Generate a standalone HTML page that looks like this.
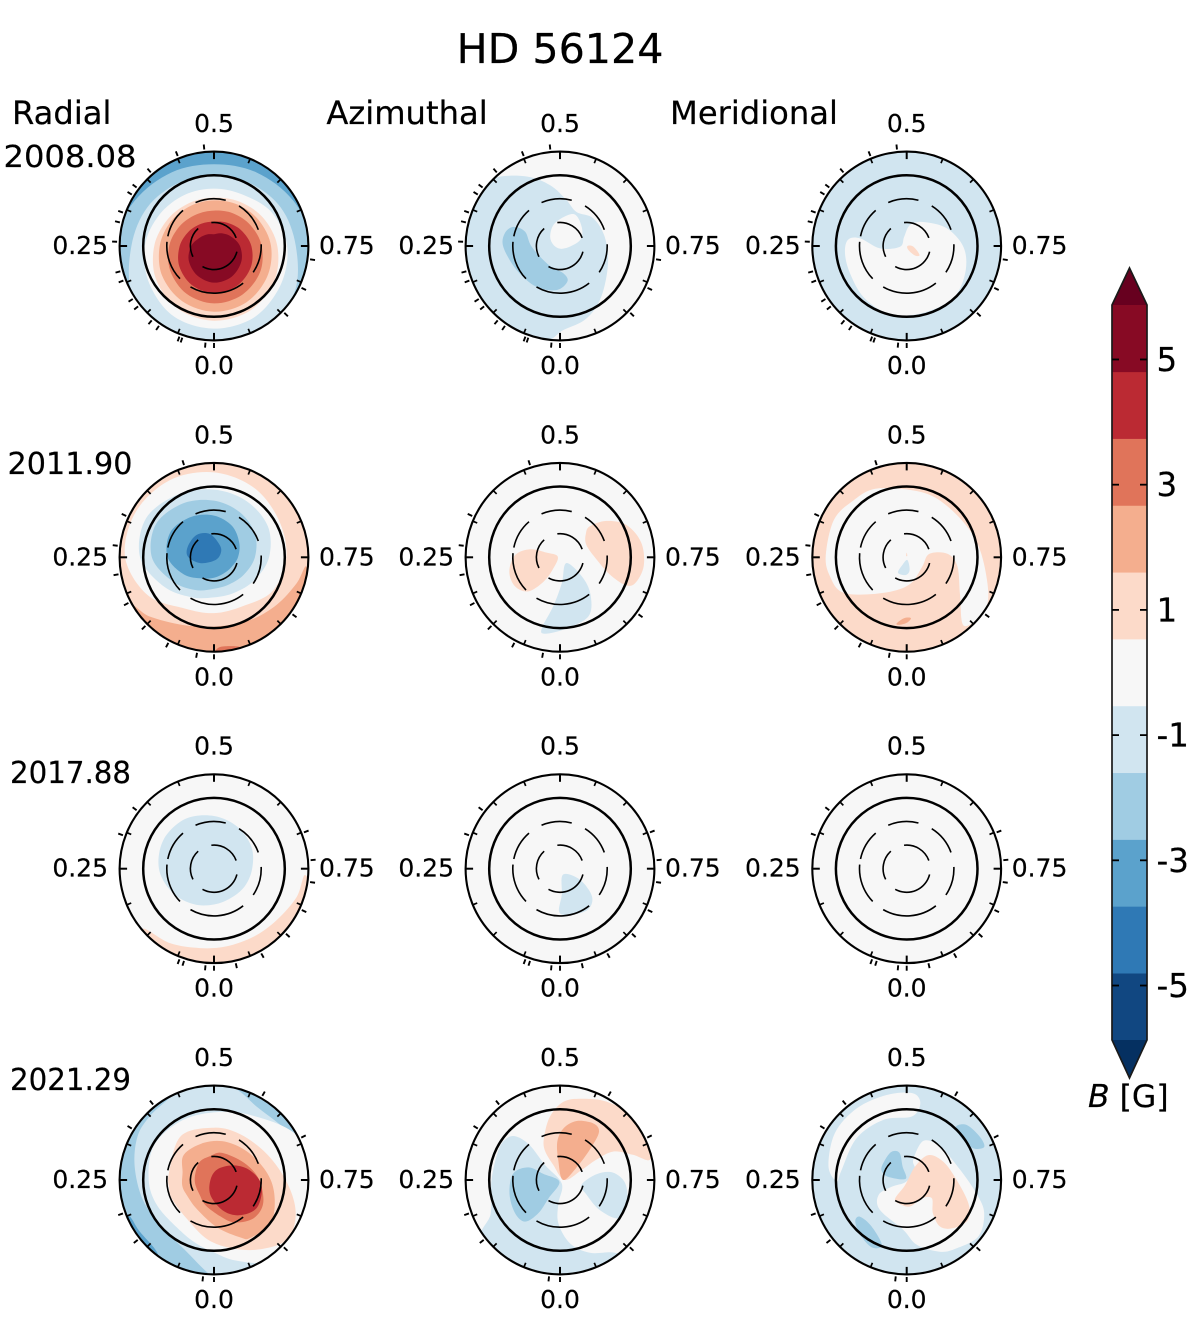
<!DOCTYPE html>
<html lang="en">
<head>
<meta charset="utf-8">
<title>HD 56124</title>
<style>
html,body{margin:0;padding:0;background:#fff;}
svg{display:block;}
text{font-family:"DejaVu Sans","Liberation Sans",sans-serif;fill:#000;stroke:#000;stroke-width:.2;}
</style>
</head>
<body>
<svg id="chart" xmlns="http://www.w3.org/2000/svg" width="1200" height="1336" viewBox="0 0 1200 1336">
  <rect x="0" y="0" width="1200" height="1336" fill="#ffffff"/>
  <text x="560" y="63" font-size="41.2" text-anchor="middle">HD 56124</text>
  <text x="12" y="124" font-size="32.2">Radial</text>
  <text x="407" y="124" font-size="32.2" text-anchor="middle">Azimuthal</text>
  <text x="754" y="124" font-size="32.2" text-anchor="middle">Meridional</text>
  <g id="panels"></g>
  <g id="colorbar"></g>
  <text x="1088" y="1107" font-size="31.5"><tspan font-style="italic">B</tspan> [G]</text>
</svg>
<script>
// ---------- figure categories ----------
const components = ['radial', 'azimuthal', 'meridional'];
const epochs = ['2008.08', '2011.90', '2017.88', '2021.29'];
const phaseLabels = ['0.5', '0.25', '0.75', '0.0'];
const phaseLabelValues = [0.5, 0.25, 0.75, 0];
const gridDashedColat = [30, 60];
const gridSolidColat = [90];
const maxColat = 120;
const minorPhaseCount = 16;

// ---------- observed phases (outer ticks), one list per epoch ----------
const obsPhases2008 = [.484,.439,.387,.353,.339,.306,.289,.257,.208,.192,.158,.143,.111,.096,.058,.053,.014,0,.871,.821,.772];
const obsPhases2011 = [.45,.32,.269,.222,.172,.125,.078,.028,0,.85];
const obsPhases2017 = [.353,.306,.689,.736,.772,.82,.867,.919,.964,0,.014,.05,.058];
const obsPhases2021 = [.583,.392,.339,.678,.194,.144,.872,.018,0];

// ---------- dashed-latitude dash spans [phase start, phase end] ----------
const dashSpans60 = [[.436,.54],[.589,.694],[.744,.844],[.894,1.083],[1.128,1.264],[1.283,1.386]];
const dashSpans30 = [[.482,.694],[.789,1.081],[1.175,1.383]];

// ---------- colour scale ----------
const bandColors = ['#114781','#2f79b5','#5ba2cc','#a0cce3','#d1e5f0','#f7f7f7','#fcdac9','#f4ae8e','#e0745a','#bb2a33','#870a24'];
const extendLowColor = '#053061';
const extendHighColor = '#67001f';
const scaleMin = -5.87;
const scaleMax = 5.87;
const colorbarTicks = [5, 3, 1, -1, -3, -5];
const colorbarTickLabels = ['5', '3', '1', '-1', '-3', '-5'];

// ---------- contour data: [band level, outline]
// outline = list of colatitudes at ringPhases, or list of [phase, colatitude]
const ringPhases = [.5,.583,.667,.75,.833,.917,0,.083,.167,.25,.333,.417];
const baseLevels = [[-3,0,-1],[1,0,1],[0,0,0],[-2,0,-1]];

const radial2008 = [
  [-2,[104,108,116,128,130,130,130,130,130,130,116,108]],
  [-1,[89,92,98,104,118,128,128,128,120,105,98,92]],
  [0,[73,75,85,93,98,104,105,103,95,88,80,75]],
  [1,[61.5,65,72,80.5,88.5,94,95,92,85,76,68,63]],
  [2,[58,60.6,65.7,72.5,78,82.6,83.5,81,76,69,63,59]],
  [3,[45,48,53.4,60.6,67.4,71.6,73,70,64,57,50.4,46]],
  [4,[31,34,40,47.5,54,58.5,60,57,51,43.6,37,32.6]],
  [5,[15,18.6,24.6,33,40,45,46.6,43,37,29,21,17]]
];
const azimuthal2008 = [
  [-1,[[.572,48],[.639,55],[.717,58],[.806,65],[.891,83],[.944,98],[.994,107],[.033,122],[.139,130],[.25,130],[.333,130],[.376,121],[.429,98],[.475,78],[.522,59]]],
  [0,[[.369,17],[.467,30],[.563,44],[.633,37],[.703,27],[.819,7],[.228,6]]],
  [-2,[[.312,64],[.312,48],[.246,36],[.087,28],[.98,35],[.967,46],[.011,56],[.083,60],[.169,63],[.247,72],[.286,72]]]
];
const meridional2008 = [
  [0,[[.267,75],[.276,60],[.236,34],[.233,8.5],[.456,12],[.525,27],[.596,37],[.683,55.5],[.752,72],[.811,81],[.871,88],[.92,88],[.985,88],[.046,89],[.112,85],[.178,80],[.231,79]]],
  [1,[[.75,1],[.766,8.5],[.847,20],[.886,16],[.936,5.5]]]
];
const radial2011 = [
  [2,[[.766,118],[.799,110],[.853,100],[.917,92],[.994,88],[.067,94.5],[.131,111],[.162,120],[.1,132],[0,132],[.9,132],[.82,130]]],
  [3,[[.994,116],[.98,114],[.955,119],[.97,125],[0,125]]],
  [0,[108,102,95,92,86,72,71,75,97,113,115,113]],
  [-1,[86,82.6,79,70,59,52,51,58.5,74,94,99.6,92]],
  [-2,[72,66,60,52,44,39.5,40,48,61,79,85,79]],
  [-3,[53,46,37,30.5,25.4,24,26,31,44,59,64,59]],
  [-4,[[.472,30],[.572,17],[.664,10],[.944,4],[.186,19],[.253,33],[.311,36],[.394,36]]]
];
const azimuthal2011 = [
  [1,[[.622,55],[.644,75],[.678,94],[.722,105],[.767,107],[.803,101],[.814,90],[.803,67],[.761,47],[.679,37],[.631,45]]],
  [1,[[.3,3],[.303,18],[.292,39],[.258,57],[.206,67],[.158,68],[.119,59],[.094,37],[.086,16.5]]],
  [-1,[[.867,11],[.867,40],[.894,63.5],[.929,83.5],[.986,91],[.031,99],[.04,93],[.022,63],[.989,33]]]
];
const meridional2011 = [
  [0,[[.25,103],[.325,104],[.381,99],[.436,95],[.533,85],[.608,83],[.703,89.5],[.781,102.5],[.839,119.5],[.889,114],[.85,84],[.778,65.5],[.736,52],[.726,29],[.836,23],[.975,33.5],[.069,48],[.142,75.5],[.174,94.5],[.207,100]]],
  [-1,[[.96,3.5],[.964,16.5],[.008,22.5],[.082,22.5],[.082,11]]],
  [1,[[.5,6],[.56,2],[.44,2]]],
  [2,[[.024,85],[.007,77.5],[.989,77.5],[.999,83],[.018,86.5]]]
];
const radial2017 = [
  [1,[[.761,116],[.803,111],[.86,103],[.917,100],[.975,100],[.028,102.5],[.085,110],[.138,118],[.1,132],[0,132],[.9,132],[.8,130]]],
  [-1,[67,61,55,48.5,45,43,45.5,52,61,70,74,73]]
];
const azimuthal2017 = [
  [-1,[[.925,8.5],[.83,29],[.864,54],[.906,63],[.967,60],[.003,55],[.989,33]]]
];
const meridional2017 = [];
const radial2021 = [
  [-3,[[.186,117],[.155,115],[.106,117],[.1,130],[.15,130],[.2,130]]],
  [-1,[[.5,130],[.542,118],[.583,108],[.625,108],[.667,115],[.708,130],[.75,132],[.875,132],[.986,130],[.011,118],[.064,96],[.136,89.5],[.208,94],[.278,102.5],[.333,112],[.375,115],[.417,118],[.458,130]]],
  [0,[[.5,86],[.583,95],[.672,120],[.75,132],[.833,132],[.903,125],[.958,106],[0,92],[.042,84],[.092,77.5],[.181,79],[.25,83],[.333,88],[.417,86]]],
  [1,[[.275,58],[.397,70],[.5,66.5],[.583,67],[.678,75],[.756,93],[.811,112],[.858,120],[.906,106],[.958,90],[.017,76],[.094,60.5],[.181,58.5],[.222,58]]],
  [2,[[.361,50],[.458,49],[.553,51],[.653,57],[.739,70],[.799,81],[.853,90],[.91,87],[.931,80.5],[.989,60.5],[.083,43],[.164,39.5],[.22,41],[.286,41]]],
  [3,[[.478,31],[.547,36],[.667,44],[.747,57],[.819,69],[.872,70],[.928,60],[.972,47],[.05,34],[.111,27],[.244,24.5],[.386,29]]],
  [4,[[.211,5],[.547,14],[.65,31.5],[.711,48],[.769,61],[.84,65],[.897,56],[.95,42],[.03,21]]]
];
const azimuthal2021 = [
  [1,[[.444,58.5],[.475,81.5],[.507,99.5],[.542,107],[.586,116],[.636,123],[.69,127],[.715,117],[.697,98],[.672,77],[.669,53],[.681,30.5],[.75,6],[.433,21],[.425,43]]],
  [2,[[.75,4],[.486,25.5],[.489,49],[.511,66],[.544,78],[.585,83.5],[.608,79],[.621,58.5],[.642,30]]],
  [-1,[[.375,78],[.386,58.5],[.375,27],[.925,5],[.011,30],[.006,55],[.975,81.5],[.938,100],[.899,114.5],[.892,130],[.96,132],[.05,132],[.144,126],[.178,98],[.25,87],[.322,87],[.356,86]]],
  [-1,[[.786,28],[.725,47],[.728,68],[.758,83],[.803,90],[.842,89],[.853,63.5],[.831,39]]],
  [-2,[[.311,43],[.306,22.5],[.05,2.5],[.089,27.5],[.092,50.5],[.111,69],[.149,71],[.208,66.5],[.272,60]]]
];
const meridional2021 = [
  [0,[[.278,101],[.342,109],[.403,111],[.464,111],[.511,110.5],[.528,99],[.513,81],[.442,82],[.361,83],[.272,84],[.247,89]]],
  [0,[[.55,27],[.564,54],[.625,60],[.719,69],[.781,90.5],[.814,107],[.856,116],[.9,107.5],[.931,100.5],[.975,83.5],[.011,63.5],[.117,51],[.172,40.5],[.183,21],[.06,2.5],[.611,16.5]]],
  [1,[[.089,27.5],[.05,7],[.589,20],[.614,42],[.676,52],[.75,63.5],[.808,84],[.842,93],[.878,85],[.901,73],[.894,54],[.85,39.5],[.892,30],[.981,34],[.056,31.5]]],
  [-2,[[.328,36],[.414,40.5],[.458,36],[.453,18],[.4,2],[.275,21.5],[.294,31]]],
  [-2,[[.619,92],[.632,103.5],[.665,108],[.686,107],[.679,93.6],[.647,87.7]]],
  [-2,[[.142,84],[.144,75.5],[.103,74],[.058,88.5],[.076,96.5],[.111,91.5]]]
];

const contourTable = [
  [radial2008, azimuthal2008, meridional2008],
  [radial2011, azimuthal2011, meridional2011],
  [radial2017, azimuthal2017, meridional2017],
  [radial2021, azimuthal2021, meridional2021]
];
const obsPhaseTable = [obsPhases2008, obsPhases2011, obsPhases2017, obsPhases2021];
const epochLabelWidths = [133, 125, 121, 121];
const epochLabelCenters = [70, 70, 70.5, 70.5];
const epochLabelBaselines = [167, 474, 783, 1090];

// ---------- layout and scales ----------
const SVGNS = 'http://www.w3.org/2000/svg';
const columnCenters = [214, 560, 906.7];
const rowCenters = [246, 557.3, 868.7, 1180];
const outerRadius = 94.4;
const barX0 = 1112, barX1 = 1147, barTop = 305, barBottom = 1040;

function rScale(colat) { return colat / maxColat * outerRadius; }
function thetaScale(phase) { return (phase - 0.5) * 2 * Math.PI; }
function polarX(cx, phase, colat) { return cx + rScale(colat) * Math.sin(thetaScale(phase)); }
function polarY(cy, phase, colat) { return cy - rScale(colat) * Math.cos(thetaScale(phase)); }
function barY(value) { return barTop + (scaleMax - value) / (scaleMax - scaleMin) * (barBottom - barTop); }
function levelColor(level) { return bandColors[level + 5]; }

function make(tag, parent) {
  const el = document.createElementNS(SVGNS, tag);
  parent.appendChild(el);
  return el;
}

function smoothClosedPath(pts) {
  const n = pts.length;
  let d = 'M' + pts[0][0].toFixed(2) + ' ' + pts[0][1].toFixed(2);
  for (let i = 0; i < n; i++) {
    const p0 = pts[(i - 1 + n) % n], p1 = pts[i], p2 = pts[(i + 1) % n], p3 = pts[(i + 2) % n];
    const c1x = p1[0] + (p2[0] - p0[0]) / 6, c1y = p1[1] + (p2[1] - p0[1]) / 6;
    const c2x = p2[0] - (p3[0] - p1[0]) / 6, c2y = p2[1] - (p3[1] - p1[1]) / 6;
    d += 'C' + c1x.toFixed(2) + ' ' + c1y.toFixed(2) + ' ' + c2x.toFixed(2) + ' ' + c2y.toFixed(2) + ' ' + p2[0].toFixed(2) + ' ' + p2[1].toFixed(2);
  }
  return d + 'Z';
}

function outlineToPixels(outline, cx, cy) {
  return outline.map(function (v, i) {
    const phase = Array.isArray(v) ? v[0] : ringPhases[i];
    const colat = Array.isArray(v) ? v[1] : v;
    return [polarX(cx, phase, colat), polarY(cy, phase, colat)];
  });
}

function drawContours(g, contours, baseLevel, cx, cy, clipId) {
  const clipPath = make('clipPath', g);
  clipPath.setAttribute('id', clipId);
  const clipCircle = make('circle', clipPath);
  clipCircle.setAttribute('cx', cx);
  clipCircle.setAttribute('cy', cy);
  clipCircle.setAttribute('r', rScale(maxColat));

  const disk = make('circle', g);
  
  
  disk.setAttribute('cx', cx);
  disk.setAttribute('cy', cy);
  disk.setAttribute('r', rScale(maxColat));
  disk.setAttribute('fill', levelColor(baseLevel));

  const regions = make('g', g);
  
  
  regions.setAttribute('clip-path', 'url(#' + clipId + ')');
  contours.forEach(function (c) {
    const path = make('path', regions);
    
    
    path.setAttribute('d', smoothClosedPath(outlineToPixels(c[1], cx, cy)));
    path.setAttribute('fill', levelColor(c[0]));
  });
}

function drawGrid(g, cx, cy) {
  gridDashedColat.forEach(function (colat) {
    const spans = colat === 30 ? dashSpans30 : dashSpans60;
    spans.forEach(function (s) {
      const large = (s[1] - s[0]) > 0.5 ? 1 : 0;
      const r = rScale(colat);
      const arc = make('path', g);
      
      
      arc.setAttribute('d', 'M' + polarX(cx, s[0], colat).toFixed(2) + ' ' + polarY(cy, s[0], colat).toFixed(2) +
        'A' + r.toFixed(2) + ' ' + r.toFixed(2) + ' 0 ' + large + ' 1 ' +
        polarX(cx, s[1], colat).toFixed(2) + ' ' + polarY(cy, s[1], colat).toFixed(2));
      arc.setAttribute('fill', 'none');
      arc.setAttribute('stroke', '#000');
      arc.setAttribute('stroke-width', '1.6');
    });
  });
  gridSolidColat.forEach(function (colat) {
    const ring = make('circle', g);
    
    
    ring.setAttribute('cx', cx);
    ring.setAttribute('cy', cy);
    ring.setAttribute('r', rScale(colat));
    ring.setAttribute('fill', 'none');
    ring.setAttribute('stroke', '#000');
    ring.setAttribute('stroke-width', '2.5');
  });
  const outer = make('circle', g);
  
  
  outer.setAttribute('cx', cx);
  outer.setAttribute('cy', cy);
  outer.setAttribute('r', rScale(maxColat));
  outer.setAttribute('fill', 'none');
  outer.setAttribute('stroke', '#000');
  outer.setAttribute('stroke-width', '2.1');
}

function radialTick(g, cx, cy, phase, r0, r1, width) {
  const t = thetaScale(phase);
  const line = make('line', g);
  line.setAttribute('x1', (cx + r0 * Math.sin(t)).toFixed(2));
  line.setAttribute('y1', (cy - r0 * Math.cos(t)).toFixed(2));
  line.setAttribute('x2', (cx + r1 * Math.sin(t)).toFixed(2));
  line.setAttribute('y2', (cy - r1 * Math.cos(t)).toFixed(2));
  line.setAttribute('stroke', '#000');
  line.setAttribute('stroke-width', width);
  return line;
}

function drawTicks(g, cx, cy, obsPhases) {
  const edge = rScale(maxColat);
  for (let i = 0; i < minorPhaseCount; i++) {
    const major = i % 4 === 0;
    const tick = radialTick(g, cx, cy, i / minorPhaseCount, edge - (major ? 7.5 : 4.8), edge, major ? 2 : 1.7);
    
    
  }
  obsPhases.forEach(function (phase) {
    const tick = radialTick(g, cx, cy, phase, edge + 2.6, edge + 7.6, 1.9);
    
    
  });
}

function drawPhaseLabels(g, cx, cy) {
  phaseLabels.forEach(function (label, i) {
    const phase = phaseLabelValues[i];
    const t = make('text', g);
    
    
    t.setAttribute('font-size', '25');
    if (phase === 0.5) {
      t.setAttribute('x', cx);
      t.setAttribute('y', cy - 114);
      t.setAttribute('text-anchor', 'middle');
    } else if (phase === 0) {
      t.setAttribute('x', cx);
      t.setAttribute('y', cy + 128);
      t.setAttribute('text-anchor', 'middle');
    } else if (phase === 0.25) {
      t.setAttribute('x', cx - 106);
      t.setAttribute('y', cy + 8);
      t.setAttribute('text-anchor', 'end');
    } else {
      t.setAttribute('x', cx + 105);
      t.setAttribute('y', cy + 8);
    }
    t.textContent = label;
  });
}

// ---------- panels ----------
const panelsRoot = document.getElementById('panels');
epochs.forEach(function (epoch, row) {
  const label = make('text', panelsRoot);
  
  
  label.setAttribute('x', epochLabelCenters[row]);
  label.setAttribute('y', epochLabelBaselines[row]);
  label.setAttribute('font-size', '30.5');
  label.setAttribute('text-anchor', 'middle');
  label.setAttribute('textLength', epochLabelWidths[row]);
  label.setAttribute('lengthAdjust', 'spacingAndGlyphs');
  label.textContent = epoch;

  components.forEach(function (component, col) {
    const cx = columnCenters[col], cy = rowCenters[row];
    const panel = make('g', panelsRoot);
    
    
    drawContours(panel, contourTable[row][col], baseLevels[row][col], cx, cy, 'clip-' + row + '-' + col);
    drawGrid(panel, cx, cy);
    drawTicks(panel, cx, cy, obsPhaseTable[row]);
    drawPhaseLabels(panel, cx, cy);
  });
});

// ---------- colorbar ----------
const barRoot = document.getElementById('colorbar');
const barStep = (scaleMax - scaleMin) / bandColors.length;
bandColors.forEach(function (color, i) {
  const lo = scaleMin + i * barStep, hi = lo + barStep;
  const band = make('rect', barRoot);
  
  
  band.setAttribute('x', barX0);
  band.setAttribute('y', barY(hi));
  band.setAttribute('width', barX1 - barX0);
  band.setAttribute('height', barY(lo) - barY(hi) + 0.3);
  band.setAttribute('fill', color);
});
const arrowHigh = make('polygon', barRoot);


arrowHigh.setAttribute('points', barX0 + ',' + barTop + ' ' + (barX0 + barX1) / 2 + ',268 ' + barX1 + ',' + barTop);
arrowHigh.setAttribute('fill', extendHighColor);
const arrowLow = make('polygon', barRoot);


arrowLow.setAttribute('points', barX0 + ',' + barBottom + ' ' + (barX0 + barX1) / 2 + ',1078 ' + barX1 + ',' + barBottom);
arrowLow.setAttribute('fill', extendLowColor);
const barOutline = make('polygon', barRoot);


barOutline.setAttribute('points', barX0 + ',' + barTop + ' ' + (barX0 + barX1) / 2 + ',268 ' + barX1 + ',' + barTop + ' ' + barX1 + ',' + barBottom + ' ' + (barX0 + barX1) / 2 + ',1078 ' + barX0 + ',' + barBottom);
barOutline.setAttribute('fill', 'none');
barOutline.setAttribute('stroke', '#1a1a1a');
barOutline.setAttribute('stroke-width', '1.7');
colorbarTicks.forEach(function (value, i) {
  const y = barY(value);
  [[barX0, barX0 + 7], [barX1 - 7, barX1]].forEach(function (xs) {
    const tick = make('line', barRoot);
    
    
    tick.setAttribute('x1', xs[0]);
    tick.setAttribute('x2', xs[1]);
    tick.setAttribute('y1', y);
    tick.setAttribute('y2', y);
    tick.setAttribute('stroke', '#000');
    tick.setAttribute('stroke-width', '1.8');
  });
  const label = make('text', barRoot);
  
  
  label.setAttribute('x', 1156.5);
  label.setAttribute('y', y + 11.5);
  label.setAttribute('font-size', '32.5');
  label.textContent = colorbarTickLabels[i];
});
</script>
</body>
</html>
